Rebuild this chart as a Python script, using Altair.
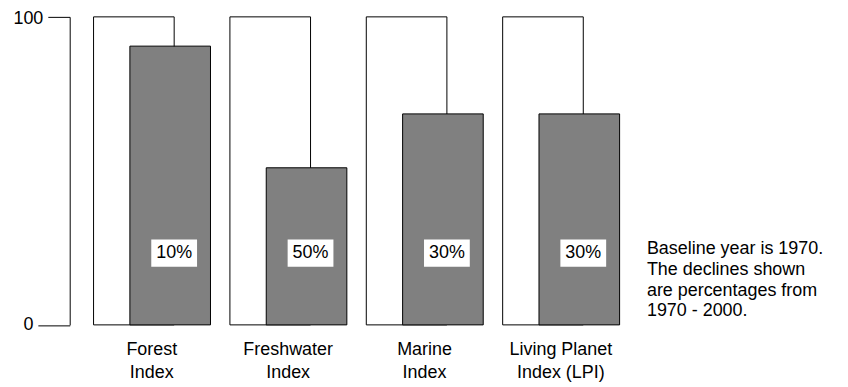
import altair as alt
import pandas as pd

categories = ["Forest Index", "Freshwater Index", "Marine Index", "Living Planet Index (LPI)"]
baseline_1970 = [100, 100, 100, 100]
index_2000 = [90.5, 51, 68.5, 68.5]
decline_labels = ["10%", "50%", "30%", "30%"]
y_ticks = [0, 100]
note_lines = ["Baseline year is 1970.", "The declines shown", "are percentages from", "1970 - 2000."]

df = pd.DataFrame({
    "category": categories,
    "baseline": baseline_1970,
    "value": index_2000,
    "decline": decline_labels,
})
note_df = pd.DataFrame({"note": ["\n".join(note_lines)]})

FONT = "Liberation Sans"
FS = 18

x_enc = alt.X(
    "category:N",
    sort=categories,
    scale=alt.Scale(paddingInner=0, paddingOuter=0.1018),
    axis=alt.Axis(
        title=None, domain=False, ticks=False, labelAngle=0,
        labelFont=FONT, labelFontSize=FS, labelColor="black",
        labelPadding=16, labelLineHeight=23,
        labelExpr="datum.label == 'Living Planet Index (LPI)' ? ['Living Planet', 'Index (LPI)'] : split(datum.label, ' ')",
    ),
)
y_scale = alt.Scale(domain=[0, 100], nice=False)

base = alt.Chart(df)

white = base.mark_bar(fill="white", stroke="black", strokeWidth=1, width=81, xOffset=-18).encode(
    x=x_enc,
    y=alt.Y(
        "baseline:Q", scale=y_scale,
        axis=alt.Axis(
            values=y_ticks, title=None, grid=False,
            domainColor="black", domainWidth=1,
            tickColor="black", tickWidth=1,
            tickSize={"condition": {"test": "datum.value == 0", "value": 32}, "value": 22},
            labelOffset={"condition": {"test": "datum.value == 100", "value": 2}, "value": 0},
            labelFont=FONT, labelFontSize=FS, labelColor="black", labelPadding=5,
        ),
    ),
)

gray = base.mark_bar(fill="#808080", stroke="black", strokeWidth=1, width=81, xOffset=18.5).encode(
    x=x_enc,
    y=alt.Y("value:Q", scale=y_scale, title=None),
)

box = base.mark_point(
    shape="M-1,-0.6H1V0.6H-1Z", size=2116, filled=True, fill="white",
    strokeWidth=0, opacity=1, xOffset=22.5,
).encode(x=x_enc, y=alt.datum(23.3))

label = base.mark_text(
    font=FONT, fontSize=FS, color="black", align="center", baseline="middle", xOffset=22.5,
).encode(x=x_enc, y=alt.datum(23.3), text="decline:N")

note = alt.Chart(note_df).mark_text(
    font=FONT, fontSize=FS, color="black", align="left", baseline="alphabetic",
    lineBreak="\n", lineHeight=21,
).encode(x=alt.value(580), y=alt.value(238), text="note:N")

chart = alt.layer(white, gray, box, label, note).properties(
    width=576,
    height=309.5,
    autosize=alt.AutoSizeParams(type="none"),
    padding={"left": 62, "top": 8, "right": 198, "bottom": 60},
    background="white",
).configure_view(stroke=None)

chart.save("out.html", embed_options={"renderer": "svg", "actions": False})
